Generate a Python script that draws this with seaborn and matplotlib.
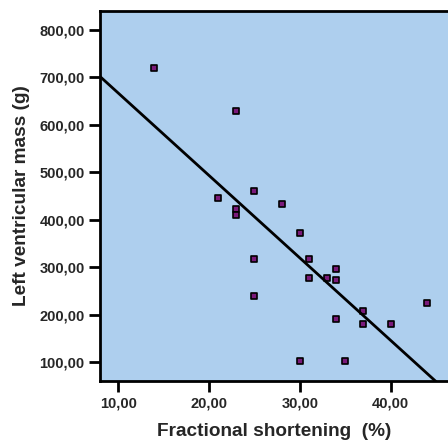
import matplotlib
matplotlib.use('Agg')
import matplotlib.pyplot as plt
import seaborn as sns
import pandas as pd
from matplotlib.ticker import FuncFormatter

shortening = [14, 21, 23, 25, 28, 23, 23, 30, 25, 31, 34, 31, 33, 34, 25, 44, 37, 34, 37, 40, 30, 35]
lv_mass = [720, 445, 630, 460, 434, 423, 410, 373, 317, 317, 296, 277, 277, 273, 240, 225, 207, 190, 181, 181, 102, 102]
x_ticks = [10, 20, 30, 40]
y_ticks = [100, 200, 300, 400, 500, 600, 700, 800]

df = pd.DataFrame({'fs': shortening, 'mass': lv_mass})

sns.set_style('ticks')
plt.rcParams['font.family'] = ['Liberation Sans', 'DejaVu Sans']

fig = plt.figure(figsize=(4.48, 4.43), dpi=100)
ax = fig.add_axes([0.223, 0.140, 0.777, 0.835])
ax.set_facecolor('#aecfee')
ax.set_xlim(8, 46.3)
ax.set_ylim(60, 840)

sns.regplot(x='fs', y='mass', data=df, ax=ax, ci=None, truncate=False,
            marker='s',
            scatter_kws={'s': 20, 'color': '#7a1a7a', 'edgecolors': 'black', 'linewidths': 1.2, 'alpha': 1},
            line_kws={'color': 'black', 'lw': 2})

ax.set_xticks(x_ticks)
ax.set_yticks(y_ticks)
fmt = FuncFormatter(lambda v, p: f'{v:.2f}'.replace('.', ','))
ax.xaxis.set_major_formatter(fmt)
ax.yaxis.set_major_formatter(fmt)
ax.tick_params(direction='out', length=8, width=2, color='black', labelsize=10.5, pad=3)
for lab in ax.get_xticklabels() + ax.get_yticklabels():
    lab.set_fontweight('bold')

for side in ['left', 'bottom', 'top']:
    ax.spines[side].set_visible(True)
    ax.spines[side].set_linewidth(2)
    ax.spines[side].set_color('black')
ax.spines['right'].set_visible(False)

ax.set_xlabel('Fractional shortening  (%)', fontsize=13.7, fontweight='bold', labelpad=9)
ax.set_ylabel('Left ventricular mass (g)', fontsize=13.7, fontweight='bold', labelpad=7)

fig.savefig('out.png', dpi=100)
